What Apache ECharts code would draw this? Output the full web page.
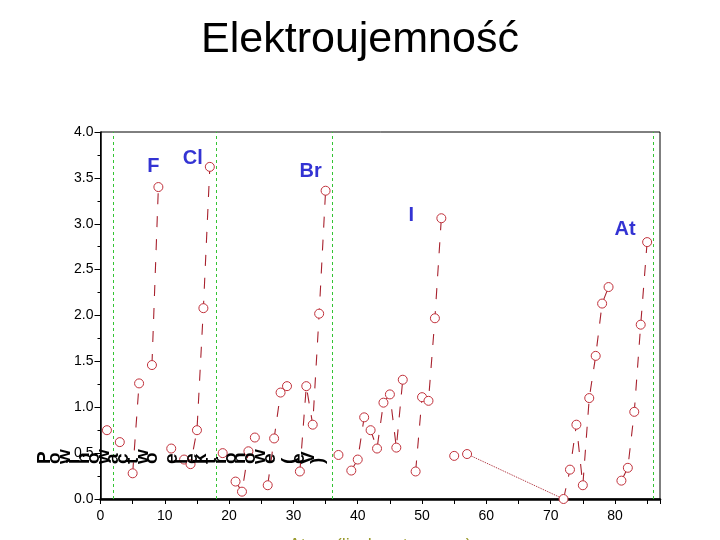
<!DOCTYPE html>
<html>
<head>
<meta charset="utf-8">
<script src="https://cdn.jsdelivr.net/npm/echarts@6/dist/echarts.min.js"></script>
<style>
  html, body { margin: 0; padding: 0; background: #fff; }
  #chart { width: 720px; height: 540px; }
</style>
</head>
<body>
<div id="chart"></div>
<script>
// dane
const titleText = 'Elektroujemność';
const xAxisName = 'Atom (liczba atomowa)';
const yAxisName = 'Powinowactwo elektronowe (eV)';

const atomicNumbers = [1, 3, 5, 6, 8, 9, 11, 13, 14, 15, 16, 17, 19, 21, 22, 23, 24, 26, 27, 28,
  29, 31, 32, 33, 34, 35, 37, 39, 40, 41, 42, 43, 44, 45, 46, 47, 49, 50, 51, 52,
  53, 55, 57, 72, 73, 74, 75, 76, 77, 78, 79, 81, 82, 83, 84, 85];
const affinities = [0.75, 0.62, 0.28, 1.26, 1.46, 3.40, 0.55, 0.43, 0.38, 0.75, 2.08, 3.62, 0.50, 0.19, 0.08, 0.52, 0.67, 0.15, 0.66, 1.16,
  1.23, 0.30, 1.23, 0.81, 2.02, 3.36, 0.48, 0.31, 0.43, 0.89, 0.75, 0.55, 1.05, 1.14, 0.56, 1.30, 0.30, 1.11, 1.07, 1.97,
  3.06, 0.47, 0.49, 0.00, 0.32, 0.81, 0.15, 1.10, 1.56, 2.13, 2.31, 0.20, 0.34, 0.95, 1.90, 2.80];

const lanthanideGap = [57, 72];         // kropkowane połączenie La - Hf
const nobleGasLines = [2, 18, 36, 86];  // zielone linie gazów szlachetnych
const halogenNames = ['F', 'Cl', 'Br', 'I', 'At'];
const halogenZ = [9, 17, 35, 53, 85];

const xTicks = { min: 0, max: 87, step: 5, labelEvery: 10 };
const yTicks = { min: 0, max: 4, step: 0.5 };

const affinityOf = z => affinities[atomicNumbers.indexOf(z)];

// linia przerywana tylko między kolejnymi pierwiastkami
const lineData = [];
atomicNumbers.forEach((z, i) => {
  if (i > 0 && z - atomicNumbers[i - 1] > 1) lineData.push([atomicNumbers[i - 1] + 1, '-']);
  lineData.push([z, affinities[i]]);
});

const labelOffsets = {
  F: [-5, -21], Cl: [-17, -8], Br: [-15, -19], I: [-30, -3], At: [-22, -13]
};

const red = '#a8222e';
const font = 'Liberation Sans, Arial, sans-serif';

// zepsuty podpis osi Y: każdy znak obrócony, ułożony poziomo
const brokenLabel = yAxisName.split('').map((ch, i) => ({
  type: 'text',
  x: 40 + 9.76 * (i + 0.5),
  y: 464,
  rotation: Math.PI / 2,
  z: 100,
  style: {
    text: ch,
    fill: '#000',
    font: 'bold 19px ' + font,
    align: 'left',
    verticalAlign: 'middle'
  }
}));

const myChart = echarts.init(document.getElementById('chart'));

const options = {
  animation: false,
  title: {
    text: titleText,
    left: 'center',
    top: 14,
    textStyle: { fontFamily: font, fontSize: 43, fontWeight: 'normal', color: '#000' }
  },
  grid: {
    left: 100.5, right: 60, top: 132, bottom: 41,
    containLabel: false,
    outerBoundsMode: 'none',
    show: true, borderColor: '#000', borderWidth: 1
  },
  xAxis: [{
    type: 'value',
    min: xTicks.min,
    max: xTicks.max,
    interval: xTicks.step,
    name: xAxisName,
    nameLocation: 'middle',
    nameGap: 38,
    nameTextStyle: { fontFamily: font, fontSize: 18, color: '#9a9a2c' },
    axisLine: { onZero: false, lineStyle: { color: '#000', width: 1 } },
    axisTick: { length: 5, lineStyle: { color: '#000' } },
    axisLabel: {
      margin: 10,
      fontFamily: font, fontSize: 14, color: '#000',
      formatter: v => (v % xTicks.labelEvery === 0 ? String(v) : '')
    },
    splitLine: { show: false }
  }, {
    type: 'value',
    position: 'top',
    min: xTicks.min,
    max: xTicks.max,
    axisLine: { lineStyle: { color: '#000', width: 2.5 } },
    axisTick: { show: false },
    axisLabel: { show: false },
    splitLine: { show: false }
  }],
  yAxis: {
    type: 'value',
    min: yTicks.min,
    max: yTicks.max,
    interval: yTicks.step,
    axisLine: { show: true, onZero: false, lineStyle: { color: '#000', width: 1.5 } },
    axisTick: { length: 6, lineStyle: { color: '#000' } },
    minorTick: { show: true, splitNumber: 2, length: 3, lineStyle: { color: '#000' } },
    axisLabel: {
      margin: 7,
      fontFamily: font, fontSize: 14, color: '#000',
      formatter: v => v.toFixed(1)
    },
    splitLine: { show: false }
  },
  graphic: brokenLabel,
  series: [
    {
      name: 'lantanowce',
      type: 'line',
      data: lanthanideGap.map(z => [z, affinityOf(z)]),
      showSymbol: false,
      silent: true,
      lineStyle: { color: red, width: 1, type: 'dotted' },
      markLine: {
        silent: true,
        symbol: 'none',
        label: { show: false },
        lineStyle: { color: '#33c433', width: 1, type: [3, 3] },
        data: nobleGasLines.map(z => ({ xAxis: z }))
      }
    },
    {
      name: 'powinowactwo',
      type: 'line',
      data: lineData,
      connectNulls: false,
      showAllSymbol: true,
      symbol: 'circle',
      symbolSize: 9,
      lineStyle: { color: red, width: 1.1, type: [11, 12] },
      itemStyle: { color: '#fff', borderColor: '#c0303a', borderWidth: 1 }
    },
    {
      name: 'halogeny',
      type: 'scatter',
      silent: true,
      symbolSize: 0,
      data: halogenZ.map((z, i) => ({ name: halogenNames[i], value: [z, affinityOf(z)] })),
      label: {
        show: true,
        position: 'inside',
        formatter: p => p.name,
        fontFamily: font,
        fontSize: 20,
        fontWeight: 'bold',
        color: '#0000c8'
      },
      labelLayout: p => {
        const off = labelOffsets[halogenNames[p.dataIndex]];
        return { dx: off[0], dy: off[1] };
      }
    }
  ]
};

myChart.setOption(options);
</script>
</body>
</html>
